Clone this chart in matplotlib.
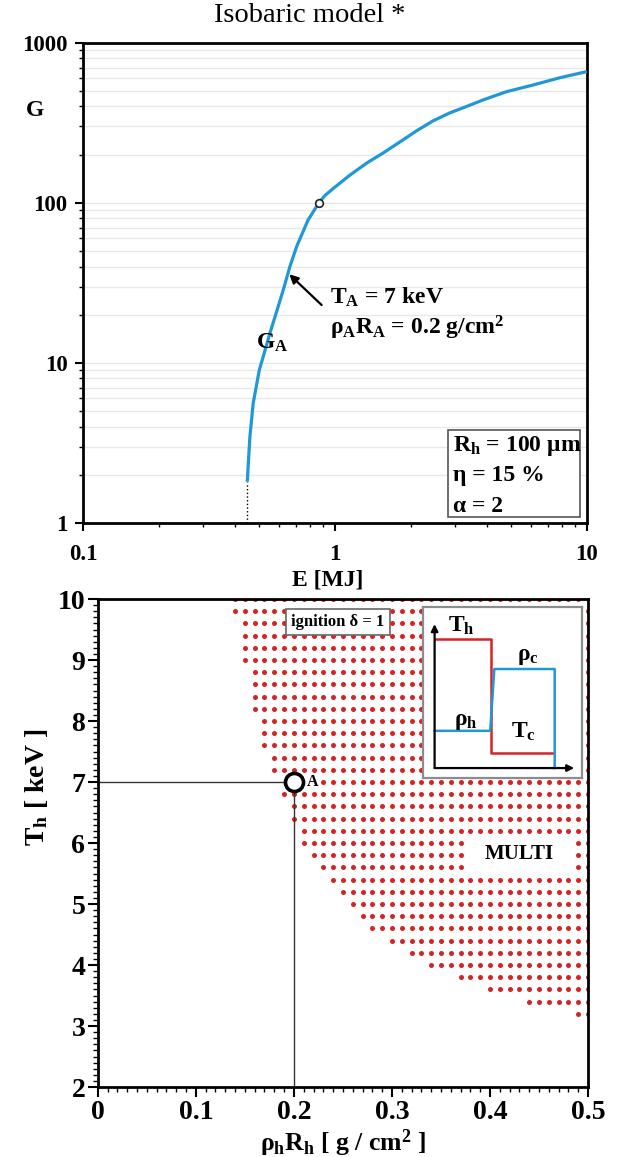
import numpy as np
import matplotlib
matplotlib.use('Agg')
import matplotlib.pyplot as plt
from matplotlib.patches import Rectangle
from matplotlib.ticker import FixedLocator, NullFormatter, MultipleLocator

plt.rcParams['font.family'] = ['Liberation Serif', 'DejaVu Serif']
plt.rcParams['mathtext.fontset'] = 'custom'
plt.rcParams['mathtext.rm'] = 'Liberation Serif:bold'
plt.rcParams['mathtext.it'] = 'Liberation Serif:bold'
plt.rcParams['mathtext.bf'] = 'Liberation Serif:bold'

# ---------------- data: top panel (gain curve) ----------------
energy_MJ = [0.449, 0.455, 0.460, 0.474, 0.501, 0.519, 0.552, 0.587, 0.624, 0.663,
             0.705, 0.783, 0.864, 0.912, 0.985, 1.147, 1.336, 1.555, 1.81, 2.11,
             2.45, 2.86, 3.33, 3.88, 4.8, 6.12, 7.82, 10.0]
gain_G = [1.81, 2.6, 3.47, 5.6, 9.0, 10.9, 15.3, 20.9, 28.6, 40.0,
          53.3, 78.3, 100, 111, 123, 149, 177, 205, 240, 282,
          325, 365, 400, 440, 495, 545, 605, 661]
marked_E = 0.864
marked_G = 100
top_yticks = [1, 10, 100, 1000]
top_yticklabels = ['1', '10', '100', '1000']
top_xticks = [0.1, 1, 10]
top_xticklabels = ['0.1', '1', '10']

# ---------------- data: bottom panel (ignition map) ----------------
row_T = [10.0, 9.8, 9.6, 9.4, 9.2, 9.0, 8.8, 8.6, 8.4, 8.2, 8.0, 7.8, 7.6, 7.4,
         7.2, 7.0, 6.8, 6.6, 6.4, 6.2, 6.0, 5.8, 5.6, 5.4, 5.2, 5.0, 4.8, 4.6,
         4.4, 4.2, 4.0, 3.8, 3.6, 3.4, 3.2]
row_start = [0.14, 0.14, 0.15, 0.15, 0.15, 0.15, 0.16, 0.16, 0.16, 0.16, 0.17,
             0.17, 0.17, 0.18, 0.18, 0.23, 0.19, 0.20, 0.20, 0.21, 0.21, 0.22,
             0.23, 0.24, 0.25, 0.26, 0.27, 0.28, 0.30, 0.32, 0.34, 0.37, 0.40,
             0.44, 0.49]
row_end = 0.50
grid_step = 0.01
point_A_rhoR = 0.2
point_A_T = 7.0
bot_xticks = [0, 0.1, 0.2, 0.3, 0.4, 0.5]
bot_xticklabels = ['0', '0.1', '0.2', '0.3', '0.4', '0.5']
bot_yticks = [2, 3, 4, 5, 6, 7, 8, 9, 10]

# inset schematic profiles
inset_x_T = [0.071, 0.428, 0.428, 0.82]
inset_T = [0.811, 0.811, 0.148, 0.148]
inset_x_rho = [0.071, 0.421, 0.447, 0.827, 0.827]
inset_rho = [0.275, 0.275, 0.637, 0.637, 0.057]

BLUE = '#1f98d5'
RED = '#d42424'

fig = plt.figure(figsize=(6.19, 11.57), dpi=100)

# ================= TOP PANEL =================
ax1 = fig.add_axes([0.134, 0.548, 0.814, 0.415])
ax1.set_xscale('log')
ax1.set_yscale('log')
ax1.set_xlim(0.1, 10)
ax1.set_ylim(1, 1000)
ax1.set_axisbelow(True)
ax1.yaxis.grid(True, which='both', color='#e8e8e8', lw=1.0)

ax1.plot(energy_MJ, gain_G, color=BLUE, lw=2.3, solid_capstyle='butt',
         solid_joinstyle='round', zorder=3)
ax1.plot([energy_MJ[0], energy_MJ[0]], [1, gain_G[0]], color='k', ls=':', lw=1.0, zorder=3)
ax1.plot([marked_E], [marked_G], 'o', ms=5.5, mfc='white', mec='#222222', mew=1.2, zorder=4)

ax1.yaxis.set_major_locator(FixedLocator(top_yticks))
ax1.set_yticklabels(top_yticklabels)
ax1.xaxis.set_major_locator(FixedLocator(top_xticks))
ax1.set_xticklabels(top_xticklabels)
ax1.xaxis.set_minor_formatter(NullFormatter())
ax1.yaxis.set_minor_formatter(NullFormatter())
ax1.tick_params(which='major', direction='out', length=6, width=1.5, labelsize=16.5)
ax1.tick_params(axis='x', which='major', pad=9)
ax1.tick_params(axis='y', which='major', pad=5)
ax1.tick_params(which='minor', direction='out', length=3, width=1.0)
for lab in ax1.get_xticklabels() + ax1.get_yticklabels():
    lab.set_fontweight('bold')
for sp in ax1.spines.values():
    sp.set_linewidth(2)

ax1.text(-0.095, 0.86, 'G', transform=ax1.transAxes, fontsize=17, fontweight='bold',
         ha='center', va='center')
ax1.text(0.485, -0.118, 'E [MJ]', transform=ax1.transAxes, fontsize=17, fontweight='bold',
         ha='center', va='center')

ax1.annotate('', xy=(0.659, 35.8), xytext=(0.886, 23.0),
             arrowprops=dict(arrowstyle='-|>', color='k', lw=1.6, mutation_scale=13,
                             shrinkA=0, shrinkB=0))
ax1.text(0.955, 25.5, 'T$_\\mathrm{A}$ = 7 keV', fontsize=17, fontweight='bold',
         ha='left', va='center')
ax1.text(0.955, 16.6, 'ρ$_\\mathrm{A}$R$_\\mathrm{A}$ = 0.2 g/cm$^\\mathrm{2}$', fontsize=17,
         fontweight='bold', ha='left', va='center')
ax1.text(0.562, 13.3, 'G$_\\mathrm{A}$', fontsize=17, fontweight='bold', ha='center', va='center')

ax1.add_patch(Rectangle((0.724, 0.0125), 0.262, 0.181, transform=ax1.transAxes,
                        fc='white', ec='#555555', lw=1.2, zorder=5))
box_lines = ['R$_\\mathrm{h}$ = 100 μm', 'η = 15 %', 'α = 2']
for i, s in enumerate(box_lines):
    ax1.text(0.735, 0.161 - i * 0.063, s, transform=ax1.transAxes, fontsize=17,
             fontweight='bold', ha='left', va='center', zorder=6)

# ================= BOTTOM PANEL =================
ax2 = fig.add_axes([0.158, 0.0605, 0.792, 0.4217])
ax2.set_xlim(0, 0.5)
ax2.set_ylim(2, 10)

dots_x, dots_y = [], []
for T, x0 in zip(row_T, row_start):
    xs = np.round(np.arange(x0, row_end + 1e-9, grid_step), 3)
    dots_x.extend(xs)
    dots_y.extend([T] * len(xs))
ax2.scatter(dots_x, dots_y, s=13, color=RED, linewidths=0, zorder=2)

ax2.plot([0, point_A_rhoR], [point_A_T, point_A_T], color='#333333', lw=1.0, zorder=3)
ax2.plot([point_A_rhoR, point_A_rhoR], [2, point_A_T], color='#333333', lw=1.0, zorder=3)
ax2.plot([point_A_rhoR], [point_A_T], 'o', ms=13, mfc='white', mec='black', mew=2.6, zorder=6)
ax2.text(point_A_rhoR + 0.0135, point_A_T, 'A', fontsize=11.5, fontweight='bold',
         ha='left', va='center', zorder=6)

ax2.text(0.245, 9.62, 'ignition δ = 1', fontsize=12, fontweight='bold', ha='center',
         va='center', zorder=6,
         bbox=dict(boxstyle='square,pad=0.3', fc='white', ec='#666666', lw=1.2))

ax2.add_patch(Rectangle((0.376, 5.5), 0.109, 0.62, fc='white', ec='none', zorder=4))
ax2.text(0.43, 5.82, 'MULTI', fontsize=15, fontweight='bold', ha='center', va='center', zorder=6)

ax2.set_xticks(bot_xticks)
ax2.set_xticklabels(bot_xticklabels)
ax2.set_yticks(bot_yticks)
ax2.xaxis.set_minor_locator(MultipleLocator(0.01))
ax2.yaxis.set_minor_locator(MultipleLocator(0.1))
ax2.tick_params(which='major', direction='out', length=7, width=1.5, labelsize=20, pad=2)
ax2.tick_params(which='minor', direction='out', length=3.5, width=1.0)
for lab in ax2.get_xticklabels() + ax2.get_yticklabels():
    lab.set_fontweight('bold')
for sp in ax2.spines.values():
    sp.set_linewidth(2)
    sp.set_zorder(7)

ax2.text(-0.125, 0.615, 'T$_\\mathrm{h}$ [ keV ]', transform=ax2.transAxes, fontsize=20,
         fontweight='bold', rotation=90, ha='center', va='center')
ax2.text(0.5, -0.115, 'ρ$_\\mathrm{h}$R$_\\mathrm{h}$ [ g / cm$^\\mathrm{2}$ ]',
         transform=ax2.transAxes, fontsize=18.5, fontweight='bold', ha='center', va='center')

# inset schematic
axin = ax2.inset_axes([0.332, 7.07, 0.162, 2.80], transform=ax2.transData, zorder=5)
axin.set_xlim(0, 1)
axin.set_ylim(0, 1)
axin.set_xticks([])
axin.set_yticks([])
axin.set_facecolor('white')
for sp in axin.spines.values():
    sp.set_color('#8c8c8c')
    sp.set_linewidth(1.6)
axin.plot(inset_x_T, inset_T, color=RED, lw=1.8)
axin.plot(inset_x_rho, inset_rho, color=BLUE, lw=1.8)
axin.annotate('', xy=(0.071, 0.90), xytext=(0.071, 0.057),
              arrowprops=dict(arrowstyle='-|>', color='k', lw=1.6, mutation_scale=10,
                              shrinkA=0, shrinkB=0))
axin.annotate('', xy=(0.95, 0.057), xytext=(0.071, 0.057),
              arrowprops=dict(arrowstyle='-|>', color='k', lw=1.6, mutation_scale=10,
                              shrinkA=0, shrinkB=0))
axin.text(0.24, 0.89, 'T$_\\mathrm{h}$', fontsize=17, fontweight='bold', ha='center', va='center')
axin.text(0.66, 0.71, 'ρ$_\\mathrm{c}$', fontsize=17, fontweight='bold', ha='center', va='center')
axin.text(0.27, 0.33, 'ρ$_\\mathrm{h}$', fontsize=17, fontweight='bold', ha='center', va='center')
axin.text(0.63, 0.27, 'T$_\\mathrm{c}$', fontsize=17, fontweight='bold', ha='center', va='center')

fig.text(0.5, 1 - 16 / 1157, 'Isobaric model *', fontsize=20.5, ha='center', va='center')

fig.savefig('out.png', dpi=100)
